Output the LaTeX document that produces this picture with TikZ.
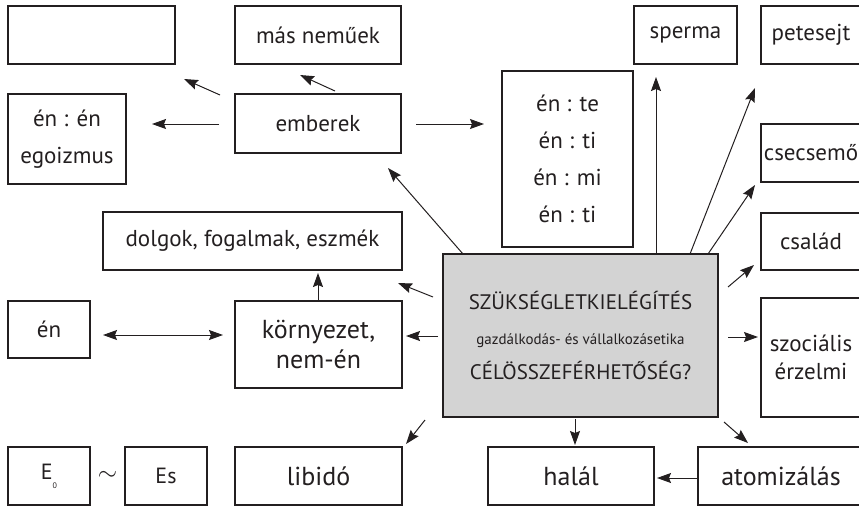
\documentclass[tikz,border=0pt]{standalone}
\usepackage{fontspec}
\setmainfont{PT Sans}
\usetikzlibrary{arrows.meta}
\definecolor{boxgray}{RGB}{211,211,211}
\definecolor{ink}{RGB}{35,31,32}
\tikzset{
  bx/.style={draw=ink, line width=1.2pt, rectangle, inner sep=1pt, text=ink,
    font=\fontsize{23}{37}\selectfont, align=center},
  big/.style={font=\fontsize{26}{30}\selectfont},
  arr/.style={draw=ink, line width=1pt, -{Stealth[length=14pt,width=10pt,inset=2pt]}},
  darr/.style={draw=ink, line width=1pt, {Stealth[length=14pt,width=10pt,inset=2pt]}-{Stealth[length=14pt,width=10pt,inset=2pt]}}
}
\begin{document}
\begin{tikzpicture}[x=1pt,y=-1pt]
\useasboundingbox (0,0) rectangle (859,507);
% boxes
\node[bx, minimum width=167pt, minimum height=58pt] (box1) at (91.5,35) {};
\node[bx, minimum width=166pt, minimum height=58pt] (masnem) at (318,35) {más neműek};
\node[bx, minimum width=118pt, minimum height=90pt] (enen) at (67,139) {én : én\\egoizmus};
\node[bx, minimum width=166pt, minimum height=59pt] (emberek) at (318,123.5) {emberek};
\node[bx, minimum width=131pt, minimum height=176pt] (ente) at (567.5,159) {én : te\\én : ti\\én : mi\\én : ti};
\node[bx, minimum width=103pt, minimum height=58pt] (sperma) at (685.5,35) {sperma};
\node[bx, minimum width=100pt, minimum height=58pt] (petesejt) at (811,35) {petesejt};
\node[bx, minimum width=100pt, minimum height=58pt] (csecsemo) at (811,153) {csecsemő};
\node[bx, minimum width=100pt, minimum height=57pt] (csalad) at (811,241.5) {család};
\node[bx, minimum width=100pt, minimum height=119pt, font=\fontsize{23}{28}\selectfont] (szocialis) at (811,357.5) {szociális\\érzelmi};
\node[bx, fill=boxgray, minimum width=275pt, minimum height=163pt] (center) at (580.5,335.5)
  {{\fontsize{21}{24}\selectfont SZÜKSÉGLETKIELÉGÍTÉS}\\[-2pt]
   {\fontsize{15}{18}\selectfont gazdálkodás- és vállalkozásetika}\\[-2pt]
   {\fontsize{21}{24}\selectfont CÉLÖSSZEFÉRHETŐSÉG?}};
\node[bx, big, minimum width=166pt, minimum height=58pt] (halal) at (571,476) {halál};
\node[bx, big, minimum width=166pt, minimum height=58pt] (atom) at (781,476) {atomizálás};
\node[bx, minimum width=299pt, minimum height=58pt] (dolgok) at (252.5,241) {dolgok, fogalmak, eszmék};
\node[bx, minimum width=82pt, minimum height=57pt] (en) at (49,329.5) {én};
\node[bx, big, minimum width=167pt, minimum height=87pt] (korny) at (318.5,344.5) {környezet,\\nem-én};
\node[bx, font=\fontsize{22}{26}\selectfont, minimum width=82pt, minimum height=58pt] (ezero) at (49,476) {E\raisebox{-9pt}{\fontsize{8}{8}\selectfont 0}};
\node[text=ink, inner sep=0pt, font=\fontsize{34}{34}\selectfont] (tilde) at (107.5,476) {$\sim$};
\node[bx, font=\fontsize{22}{26}\selectfont, minimum width=82pt, minimum height=58pt] (es) at (166,476) {Es};
\node[bx, big, minimum width=167pt, minimum height=58pt] (libido) at (318.5,476) {libidó};
% arrows
\draw[arr] (220,95) -- (184,79);   % emberek -> box1
\draw[arr] (335,91) -- (300,75);   % emberek -> masnem
\draw[arr] (219,124) -- (152,124); % emberek -> enen
\draw[arr] (416,124) -- (484,124); % emberek -> ente
\draw[arr] (463,254) -- (388,168); % center -> emberek
\draw[arr] (656,254) -- (656,77);  % center -> sperma
\draw[arr] (690,254) -- (755,88);  % center -> petesejt
\draw[arr] (708,254) -- (755,185); % center -> csecsemo
\draw[arr] (728,287) -- (754,265); % center -> csalad
\draw[arr] (728,337) -- (758,337); % center -> szocialis
\draw[arr] (724,422) -- (748,443); % center -> atom
\draw[arr] (575,419) -- (575,445); % center -> halal
\draw[arr] (atom.west |- 0,478) -- (657,478); % atom -> halal
\draw[arr] (433,297) -- (398,283); % center -> dolgok
\draw[arr] (438,336) -- (406,336); % center -> korny
\draw[arr] (425,420) -- (406,444); % center -> libido
\draw[arr] (318,301) -- (318,273); % korny -> dolgok
\draw[darr] (103,335) -- (223,335); % en <-> korny
\end{tikzpicture}
\end{document}
